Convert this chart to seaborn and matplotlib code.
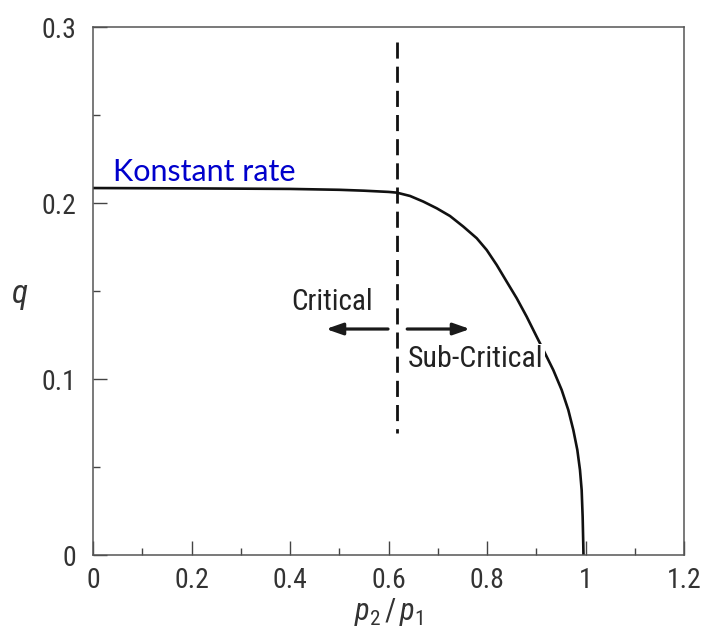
import matplotlib
matplotlib.use("Agg")
import matplotlib.pyplot as plt
import seaborn as sns
import pandas as pd
from matplotlib import font_manager as fm
from matplotlib.ticker import MultipleLocator

# ---- data ----
p_ratio = [0.0, 0.2, 0.4, 0.5, 0.55, 0.6, 0.6166, 0.6437, 0.6707, 0.6979,
           0.7249, 0.7519, 0.7791, 0.7994, 0.8197, 0.8400, 0.8603, 0.8806,
           0.9009, 0.9178, 0.9346, 0.9516, 0.9651, 0.9753, 0.9834, 0.9888,
           0.9922, 0.9942, 0.9955, 0.9959]
q_vals = [0.2085, 0.2083, 0.2080, 0.2075, 0.2070, 0.2063, 0.2059, 0.2040,
          0.2008, 0.1970, 0.1926, 0.1866, 0.1800, 0.1733, 0.1648, 0.1553,
          0.1459, 0.1354, 0.1240, 0.1146, 0.1051, 0.0938, 0.0824, 0.0710,
          0.0597, 0.0483, 0.0369, 0.0218, 0.0057, 0.0]
critical_x = [0.617, 0.617]
critical_q = [0.2915, 0.0693]
arrow_left = (0.599, 0.473)   # from, to (x); at y = arrow_y
arrow_right = (0.638, 0.7655)
arrow_y = 0.1284
x_ticks = [0, 0.2, 0.4, 0.6, 0.8, 1.0, 1.2]
x_ticklabels = ["0", "0.2", "0.4", "0.6", "0.8", "1", "1.2"]
y_ticks = [0, 0.1, 0.2, 0.3]
y_ticklabels = ["0", "0.1", "0.2", "0.3"]

sns.set_style("white")

# pick a narrow sans font if one is installed
fonts = fm.fontManager.ttflist
names = {f.name for f in fonts}
stretch = "normal"
if "Liberation Sans Narrow" in names:
    fam = "Liberation Sans Narrow"
elif "Roboto Condensed" in names:
    fam = "Roboto Condensed"
elif any(f.name == "DejaVu Sans" and "Condensed" in f.fname for f in fonts):
    fam = "DejaVu Sans"
    stretch = "condensed"
else:
    fam = "Liberation Sans"
plt.rcParams["font.family"] = [fam, "DejaVu Sans"]
plt.rcParams["font.stretch"] = stretch
plt.rcParams["mathtext.fontset"] = "custom"
plt.rcParams["mathtext.it"] = fam + ":italic"
plt.rcParams["mathtext.rm"] = fam

fig = plt.figure(figsize=(7.02, 6.35), dpi=100)
ax = fig.add_axes([93 / 702, 1 - 555 / 635, (684 - 93) / 702, (555 - 27) / 635])

curve = pd.DataFrame({"p": p_ratio, "q": q_vals})
sns.lineplot(data=curve, x="p", y="q", ax=ax, color="#111111", lw=1.9,
             sort=False, estimator=None, zorder=2)
crit = pd.DataFrame({"p": critical_x, "q": critical_q})
sns.lineplot(data=crit, x="p", y="q", ax=ax, color="#111111", lw=2.0,
             sort=False, estimator=None, zorder=2)
ax.lines[-1].set_dashes((5.8, 2.9))

for (x0, x1) in (arrow_left, arrow_right):
    ax.annotate("", xy=(x1, arrow_y), xytext=(x0, arrow_y),
                arrowprops=dict(arrowstyle="-|>,head_length=1.0,head_width=0.35",
                                color="#1a1a1a", lw=2.3, shrinkA=0, shrinkB=0))

ax.text(0.486, 0.139, "Critical", ha="center", va="baseline", fontsize=21,
        color="#222222")
ax.text(0.6396, 0.1068, "Sub-Critical", ha="left", va="baseline", fontsize=21.5,
        color="#222222", zorder=5,
        bbox=dict(facecolor="white", edgecolor="none", pad=1.0))
ax.text(0.041, 0.2125, "Konstant rate", ha="left", va="baseline", fontsize=22,
        color="#0000CC", family=["Lato", "DejaVu Sans"], fontstretch="normal")

ax.set_xlim(0, 1.2)
ax.set_ylim(0, 0.3)
ax.set_xticks(x_ticks)
ax.set_xticklabels(x_ticklabels)
ax.set_yticks(y_ticks)
ax.set_yticklabels(y_ticklabels)
ax.xaxis.set_minor_locator(MultipleLocator(0.1))
ax.yaxis.set_minor_locator(MultipleLocator(0.05))
ax.tick_params(which="major", direction="in", length=10, width=1.0,
               colors="#444444", labelsize=20, labelcolor="#333333")
ax.tick_params(axis="y", which="major", pad=12)
ax.tick_params(axis="x", which="major", pad=9)
ax.tick_params(which="minor", direction="in", length=5, width=1.0,
               colors="#444444")
ax.tick_params(top=False, right=False, which="both")
ax.tick_params(axis="x", which="both", bottom=True)
ax.tick_params(axis="y", which="both", left=True)
for s in ax.spines.values():
    s.set_visible(True)
    s.set_color("#555555")
    s.set_linewidth(1.1)

ax.set_xlabel(r"$p_2\,/\,p_1$", fontsize=22, color="#333333", labelpad=1)
ax.set_ylabel(r"$q$", fontsize=24, color="#333333", rotation=0, labelpad=40)
ax.yaxis.set_label_coords(-0.125, 0.46)

fig.savefig("out.png", dpi=100)
